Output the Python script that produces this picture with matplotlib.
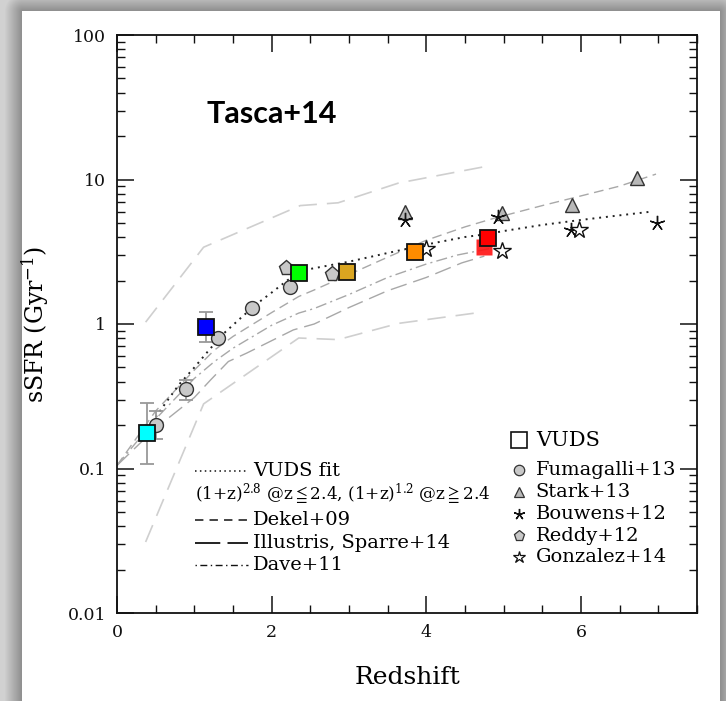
import numpy as np
import matplotlib
matplotlib.use("Agg")
import matplotlib.pyplot as plt
from matplotlib.lines import Line2D
from matplotlib.ticker import FixedLocator, LogLocator, NullFormatter, FuncFormatter

plt.rcParams['font.family'] = ['DejaVu Serif', 'DejaVu Sans']
plt.rcParams['mathtext.fontset'] = 'dejavuserif'

# ---------------- data ----------------
# VUDS (Tasca+14) squares
vuds_z = [0.39, 1.155, 2.355, 2.97, 3.85, 4.80]
vuds_s = [0.175, 0.957, 2.26, 2.30, 3.13, 3.92]
vuds_colors = ['#00ffff', '#0000ff', '#00ff00', '#daa520', '#ff8c00', '#ff0000']
vuds_err_lo = [0.107, 0.755, None, None, None, None]
vuds_err_hi = [0.285, 1.22, None, None, None, None]
vuds_shadow_z = [4.74]
vuds_shadow_s = [3.43]

# Fumagalli+13
fum_z = [0.50, 0.897, 1.30, 1.74, 2.24]
fum_s = [0.20, 0.353, 0.80, 1.30, 1.81]
fum_err_lo = [0.16, 0.30, None, None, None]
fum_err_hi = [0.25, 0.41, None, None, None]

# Stark+13
stark_z = [3.73, 4.98, 5.88, 6.72]
stark_s = [6.0, 5.84, 6.66, 10.2]

# Bouwens+12
bouw_z = [3.73, 4.93, 5.87, 6.98]
bouw_s = [5.25, 5.53, 4.47, 5.02]

# Reddy+12
reddy_z = [2.18, 2.785]
reddy_s = [2.43, 2.22]

# Gonzalez+14
gonz_z = [4.00, 4.98, 5.98]
gonz_s = [3.29, 3.20, 4.47]

# VUDS fit (dotted)
fit_z = [0.4, 0.6, 0.8, 1.0, 1.2, 1.4, 1.6, 1.8, 2.0, 2.2, 2.4, 3.0, 3.5, 4.0, 4.5, 4.8, 5.0, 5.5, 6.0, 6.5, 6.92]
fit_s = [0.19, 0.27, 0.38, 0.50, 0.67, 0.88, 1.10, 1.37, 1.65, 2.00, 2.35, 2.70, 3.10, 3.55, 4.00, 4.20, 4.40, 4.85, 5.25, 5.65, 6.00]

# Dekel+09 (dashed)
dekel_z = [0, 0.5, 1.0, 1.26, 1.5, 2.0, 2.35, 2.55, 3.0, 3.5, 4.0, 4.5, 4.88, 5.5, 6.0, 6.5, 6.97]
dekel_s = [0.105, 0.25, 0.48, 0.66, 0.82, 1.2, 1.55, 1.72, 2.2, 2.9, 3.8, 4.7, 5.4, 6.6, 7.7, 9.0, 10.9]

# Dave+11 (dash-dot)
dave_z = [0, 0.5, 1.0, 1.26, 1.5, 2.0, 2.35, 2.55, 3.0, 3.5, 4.0, 4.4, 4.85]
dave_s = [0.105, 0.22, 0.42, 0.55, 0.68, 0.98, 1.19, 1.28, 1.6, 2.1, 2.6, 3.0, 3.35]

# Illustris, Sparre+14 (long dash)
ill_z = [0, 0.5, 1.0, 1.21, 1.44, 1.68, 2.28, 2.55, 3.0, 3.5, 4.0, 4.46, 4.75]
ill_s = [0.105, 0.19, 0.31, 0.41, 0.55, 0.63, 0.91, 1.0, 1.3, 1.7, 2.1, 2.65, 2.95]

# Illustris envelope (light gray)
band_hi_z = [0.37, 1.12, 2.37, 2.86, 3.64, 4.73]
band_hi_s = [1.03, 3.4, 6.6, 6.9, 9.45, 12.2]
band_lo_z = [0.37, 1.12, 2.35, 2.86, 3.64, 4.73]
band_lo_s = [0.031, 0.28, 0.80, 0.78, 1.01, 1.21]

x_ticks = [0, 2, 4, 6]
y_ticks = [0.01, 0.1, 1, 10, 100]
y_tick_labels = ['0.01', '0.1', '1', '10', '100']

legend_right = ['VUDS', 'Fumagalli+13', 'Stark+13', 'Bouwens+12', 'Reddy+12', 'Gonzalez+14']
legend_left = ['VUDS fit', 'Dekel+09', 'Illustris, Sparre+14', 'Dave+11']

# ---------------- figure ----------------
W, H = 726, 701
fig = plt.figure(figsize=(W / 100, H / 100), dpi=100)

# background frame with soft shadow
bg = fig.add_axes([0, 0, 1, 1], zorder=-10)
yy, xx = np.mgrid[0:H, 0:W]
px0, px1, py0 = 22, 719, 11
dx = np.maximum(np.maximum(px0 - xx, 0), xx - px1)
dy = np.maximum(py0 - yy, 0)
d = np.sqrt(dx ** 2 + dy ** 2)
shade = np.clip(0.55 + 0.3 * d / 20.0, 0.55, 0.82)
shade[(dx == 0) & (dy == 0)] = 1.0
bg.imshow(np.dstack([shade] * 3), extent=[0, W, H, 0], aspect='auto', interpolation='bilinear')
bg.set_xlim(0, W)
bg.set_ylim(H, 0)
bg.axis('off')

ax = fig.add_axes([117 / W, (H - 613) / H, 580 / W, 578 / H])
ax.set_facecolor('none')
ax.set_yscale('log')
ax.set_xlim(0, 7.5)
ax.set_ylim(0.01, 100)

# model lines
band_col = '#cfcfcf'
ax.plot(band_hi_z, band_hi_s, color=band_col, lw=1.2, dashes=(11, 6), zorder=1)
ax.plot(band_lo_z, band_lo_s, color=band_col, lw=1.2, dashes=(11, 6), zorder=1)
mcol = '#a8a8a8'
ax.plot(dekel_z, dekel_s, color=mcol, lw=1.0, dashes=(7, 4), zorder=2)
ax.plot(dave_z, dave_s, color=mcol, lw=1.0, dashes=(8, 3, 1.5, 3), zorder=2)
ax.plot(ill_z, ill_s, color=mcol, lw=1.0, dashes=(12, 5), zorder=2)
ax.plot(fit_z, fit_s, color='#222222', lw=1.4, linestyle=(0, (1, 2.5)), zorder=3)

# error bars
ecol = '#999999'
for z, lo, hi in zip(vuds_z, vuds_err_lo, vuds_err_hi):
    if lo is not None:
        ax.errorbar([z], [np.sqrt(lo * hi)], yerr=[[np.sqrt(lo * hi) - lo], [hi - np.sqrt(lo * hi)]],
                    fmt='none', ecolor=ecol, elinewidth=1.3, capsize=4.7, capthick=1.3, zorder=3)
for z, lo, hi in zip(fum_z, fum_err_lo, fum_err_hi):
    if lo is not None:
        ax.errorbar([z], [np.sqrt(lo * hi)], yerr=[[np.sqrt(lo * hi) - lo], [hi - np.sqrt(lo * hi)]],
                    fmt='none', ecolor=ecol, elinewidth=1.3, capsize=4.7, capthick=1.3, zorder=3)

gray_face = '#c8c8c8'
ax.plot(fum_z, fum_s, 'o', ms=10, mfc=gray_face, mec='#333333', mew=1.0, ls='none', zorder=4)
ax.plot(reddy_z, reddy_s, 'p', ms=11, mfc=gray_face, mec='#333333', mew=1.0, ls='none', zorder=4)
ax.plot(stark_z, stark_s, '^', ms=10, mfc='#b8b8b8', mec='#333333', mew=1.0, ls='none', zorder=4)
ax.plot(bouw_z, bouw_s, marker=(5, 2, 0), ms=11, color='#111111', mew=1.0, ls='none', zorder=4)
ax.plot(gonz_z, gonz_s, '*', ms=13, mfc='white', mec='#111111', mew=1.0, ls='none', zorder=4)

ax.plot(vuds_shadow_z, vuds_shadow_s, 's', ms=11.5, mfc='#ff1010', mec='none', alpha=0.9, ls='none', zorder=5)
for z, s, c in zip(vuds_z, vuds_s, vuds_colors):
    ax.plot([z], [s], 's', ms=11.5, mfc=c, mec='#111111', mew=1.3, ls='none', zorder=6)

# ticks
ax.xaxis.set_major_locator(FixedLocator(x_ticks))
ax.xaxis.set_minor_locator(FixedLocator(np.arange(0, 7.6, 0.5)))
ax.yaxis.set_major_locator(FixedLocator(y_ticks))
ax.yaxis.set_minor_locator(LogLocator(base=10, subs=np.arange(2, 10), numticks=20))
ax.yaxis.set_minor_formatter(NullFormatter())
ax.yaxis.set_major_formatter(FuncFormatter(lambda v, p: y_tick_labels[y_ticks.index(v)] if v in y_ticks else ''))
ax.tick_params(which='both', direction='in', top=True, right=True, colors='#111111')
ax.tick_params(which='major', length=12, width=1.1, labelsize=12.5, pad=8)
ax.tick_params(which='minor', length=6, width=1.0)
for sp in ax.spines.values():
    sp.set_linewidth(1.3)
    sp.set_color('#111111')

ax.set_xlabel('Redshift', fontsize=18, labelpad=18)
ax.set_ylabel('sSFR (Gyr$^{-1}$)', fontsize=17, labelpad=12)

# title text
ax.text(0.267, 0.864, 'Tasca+14', transform=ax.transAxes, ha='center', va='center',
        fontsize=22, fontweight='bold', family=['Lato', 'DejaVu Sans'])

# left legend
fs_leg = 14
tA = ax.transAxes
xs0, xs1, xt = 0.134, 0.226, 0.234
ax.add_line(Line2D([xs0, xs1], [0.246, 0.246], transform=tA, color='#111111', lw=1.1, linestyle=(0, (1, 2.2))))
ax.text(xt, 0.246, legend_left[0], transform=tA, va='center', fontsize=fs_leg)
ax.text(xs0, 0.206, r'(1+z)$^{2.8}$ @z$\leqq$2.4, (1+z)$^{1.2}$ @z$\geqq$2.4', transform=tA, va='center', fontsize=12.2)
ax.add_line(Line2D([xs0, xs1], [0.161, 0.161], transform=tA, color='#111111', lw=1.1, dashes=(5.5, 4)))
ax.text(xt, 0.161, legend_left[1], transform=tA, va='center', fontsize=fs_leg)
ax.add_line(Line2D([xs0, xs1], [0.121, 0.121], transform=tA, color='#111111', lw=1.3, dashes=(14, 4)))
ax.text(xt, 0.121, legend_left[2], transform=tA, va='center', fontsize=fs_leg)
ax.add_line(Line2D([xs0, xs1], [0.083, 0.083], transform=tA, color='#111111', lw=1.0, dashes=(1, 2.5, 5, 2.5)))
ax.text(xt, 0.083, legend_left[3], transform=tA, va='center', fontsize=fs_leg)

# right legend
xm, xr = 0.693, 0.722
ys = [0.299, 0.247, 0.210, 0.171, 0.134, 0.097]
ax.plot([xm], [ys[0]], 's', ms=12, mfc='white', mec='#111111', mew=1.2, transform=tA)
ax.plot([xm], [ys[1]], 'o', ms=7.5, mfc=gray_face, mec='#333333', mew=0.9, transform=tA)
ax.plot([xm], [ys[2]], '^', ms=7, mfc='#b8b8b8', mec='#333333', mew=0.9, transform=tA)
ax.plot([xm], [ys[3]], marker=(5, 2, 0), ms=8, color='#111111', mew=1.0, transform=tA)
ax.plot([xm], [ys[4]], 'p', ms=8, mfc=gray_face, mec='#333333', mew=0.9, transform=tA)
ax.plot([xm], [ys[5]], '*', ms=9, mfc='white', mec='#111111', mew=0.9, transform=tA)
for lab, y in zip(legend_right, ys):
    ax.text(xr, y, lab, transform=tA, va='center', fontsize=fs_leg + (1 if lab == 'VUDS' else 0))

fig.savefig('out.png', dpi=100)
